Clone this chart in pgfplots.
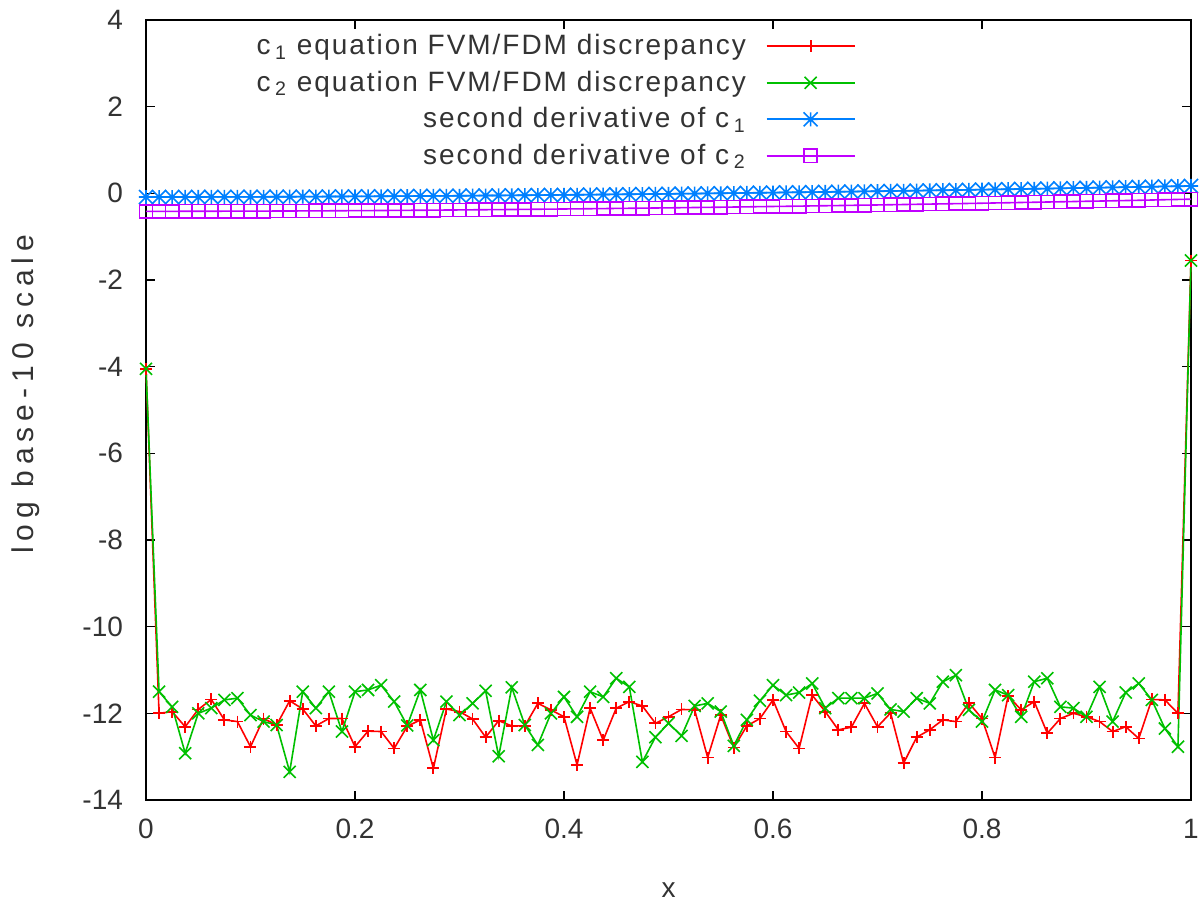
\documentclass[border=0pt]{standalone}
\usepackage{pgfplots}
\pgfplotsset{compat=1.18}
\usepackage{pgfplotstable}
\usepackage{fontspec}
\setmainfont{Liberation Sans}
\newfontfamily\legfont[LetterSpace=7]{Liberation Sans}
\newfontfamily\ylabfont[LetterSpace=20]{Liberation Sans}
\definecolor{gpred}{HTML}{FF0000}
\definecolor{gpgreen}{HTML}{00C000}
\definecolor{gpblue}{HTML}{0080FF}
\definecolor{gpmag}{HTML}{C000FF}
\pgfdeclareplotmark{ast8}{%
  \pgfpathmoveto{\pgfqpoint{-\pgfplotmarksize}{0pt}}%
  \pgfpathlineto{\pgfqpoint{\pgfplotmarksize}{0pt}}%
  \pgfpathmoveto{\pgfqpoint{0pt}{-\pgfplotmarksize}}%
  \pgfpathlineto{\pgfqpoint{0pt}{\pgfplotmarksize}}%
  \pgfpathmoveto{\pgfqpoint{-\pgfplotmarksize}{-\pgfplotmarksize}}%
  \pgfpathlineto{\pgfqpoint{\pgfplotmarksize}{\pgfplotmarksize}}%
  \pgfpathmoveto{\pgfqpoint{-\pgfplotmarksize}{\pgfplotmarksize}}%
  \pgfpathlineto{\pgfqpoint{\pgfplotmarksize}{-\pgfplotmarksize}}%
  \pgfusepathqstroke}
\pgfplotstableread{
x r g b m
0 -4.05 -4.05 -0.085 -0.415
0.0125 -12.00 -11.50 -0.085 -0.415
0.025 -11.96 -11.85 -0.085 -0.415
0.0375 -12.31 -12.92 -0.084 -0.414
0.05 -11.91 -12.00 -0.084 -0.414
0.0625 -11.68 -11.88 -0.083 -0.413
0.075 -12.15 -11.69 -0.083 -0.412
0.0875 -12.19 -11.65 -0.082 -0.412
0.1 -12.77 -12.04 -0.081 -0.411
0.1125 -12.12 -12.19 -0.080 -0.410
0.125 -12.27 -12.27 -0.079 -0.408
0.1375 -11.71 -13.35 -0.078 -0.407
0.15 -11.90 -11.50 -0.077 -0.406
0.1625 -12.29 -11.88 -0.075 -0.404
0.175 -12.12 -11.50 -0.074 -0.403
0.1875 -12.12 -12.42 -0.072 -0.401
0.2 -12.77 -11.50 -0.071 -0.400
0.2125 -12.41 -11.46 -0.069 -0.398
0.225 -12.42 -11.35 -0.068 -0.396
0.2375 -12.81 -11.73 -0.066 -0.394
0.25 -12.30 -12.28 -0.064 -0.392
0.2625 -12.15 -11.46 -0.062 -0.390
0.275 -13.27 -12.62 -0.060 -0.388
0.2875 -11.90 -11.73 -0.058 -0.385
0.3 -11.96 -12.04 -0.056 -0.383
0.3125 -12.13 -11.77 -0.054 -0.380
0.325 -12.55 -11.48 -0.051 -0.378
0.3375 -12.17 -12.99 -0.049 -0.375
0.35 -12.29 -11.40 -0.046 -0.373
0.3625 -12.29 -12.27 -0.044 -0.370
0.375 -11.77 -12.73 -0.041 -0.367
0.3875 -11.92 -12.00 -0.039 -0.364
0.4 -12.08 -11.62 -0.036 -0.361
0.4125 -13.19 -12.08 -0.033 -0.358
0.425 -11.88 -11.50 -0.030 -0.355
0.4375 -12.62 -11.62 -0.027 -0.352
0.45 -11.88 -11.19 -0.024 -0.348
0.4625 -11.73 -11.39 -0.021 -0.345
0.475 -11.83 -13.12 -0.018 -0.342
0.4875 -12.23 -12.55 -0.015 -0.338
0.5 -12.08 -12.23 -0.012 -0.335
0.5125 -11.91 -12.52 -0.008 -0.331
0.525 -11.92 -11.83 -0.005 -0.327
0.5375 -13.02 -11.77 -0.002 -0.323
0.55 -12.04 -11.96 0.002 -0.320
0.5625 -12.79 -12.75 0.005 -0.316
0.575 -12.29 -12.15 0.009 -0.312
0.5875 -12.12 -11.71 0.013 -0.307
0.6 -11.69 -11.35 0.017 -0.303
0.6125 -12.42 -11.58 0.021 -0.299
0.625 -12.81 -11.52 0.024 -0.295
0.6375 -11.58 -11.31 0.028 -0.290
0.65 -11.96 -11.88 0.032 -0.286
0.6625 -12.38 -11.65 0.037 -0.282
0.675 -12.32 -11.65 0.041 -0.277
0.6875 -11.77 -11.65 0.045 -0.272
0.7 -12.31 -11.54 0.049 -0.268
0.7125 -11.99 -11.91 0.054 -0.263
0.725 -13.15 -11.96 0.058 -0.258
0.7375 -12.55 -11.65 0.062 -0.253
0.75 -12.38 -11.77 0.067 -0.248
0.7625 -12.15 -11.27 0.072 -0.243
0.775 -12.19 -11.12 0.076 -0.238
0.7875 -11.76 -11.92 0.081 -0.233
0.8 -12.12 -12.19 0.086 -0.228
0.8125 -13.02 -11.46 0.090 -0.222
0.825 -11.60 -11.58 0.095 -0.217
0.8375 -11.92 -12.08 0.100 -0.211
0.85 -11.73 -11.27 0.105 -0.206
0.8625 -12.46 -11.19 0.110 -0.200
0.875 -12.12 -11.85 0.116 -0.195
0.8875 -12.00 -11.88 0.121 -0.189
0.9 -12.08 -12.08 0.126 -0.183
0.9125 -12.19 -11.39 0.131 -0.178
0.925 -12.42 -12.19 0.137 -0.172
0.9375 -12.31 -11.52 0.142 -0.166
0.95 -12.58 -11.31 0.148 -0.160
0.9625 -11.68 -11.69 0.153 -0.154
0.975 -11.69 -12.35 0.159 -0.147
0.9875 -12.00 -12.77 0.164 -0.141
1 -1.55 -1.55 0.170 -0.135
}\data
\begin{document}
\begin{tikzpicture}
\begin{axis}[name=ax,
  scale only axis, width=522.5pt, height=390pt,
  xmin=0, xmax=1, ymin=-14, ymax=4,
  clip=false,
  axis line style={line width=0.8pt},
  tick align=inside, major tick length=4.5pt,
  tick style={line width=0.8pt, black},
  xtick={0,0.2,0.4,0.6,0.8,1}, xticklabels={0,0.2,0.4,0.6,0.8,1},
  ytick={-14,-12,-10,-8,-6,-4,-2,0,2,4},
  yticklabels={-14,-12,-10,-8,-6,-4,-2,0,2,4},
  minor tick num=0,
  ticklabel style={font=\fontsize{14}{16}\selectfont, color=black!80},
  yticklabel style={xshift=-8pt},
  xticklabel style={yshift=-6pt},
  xlabel={x}, ylabel={\ylabfont log base-10 scale},
  label style={font=\fontsize{14}{16}\selectfont, color=black!80},
  xlabel style={at={(axis description cs:0.5,-0.115)}, anchor=center},
  ylabel style={at={(axis description cs:-0.115,0.52)}, anchor=center, font=\fontsize{15}{17}\selectfont},
  legend plot pos=right,
  legend cell align=right,
  legend style={draw=none, fill=none, at={(axis description cs:0.685,0.992)}, anchor=north east,
    font=\fontsize{14}{16}\selectfont\legfont, text=black!80, row sep=2.6pt,
    /tikz/every odd column/.append style={column sep=8pt}},
  legend image code/.code={\draw[mark repeat=2,mark phase=2,#1] plot coordinates {(0pt,0pt) (22pt,0pt) (44pt,0pt)};},
]
\addplot[gpred, line width=0.8pt, mark=+, mark size=3pt, mark options={line width=0.9pt}] table[x=x,y=r] {\data};
\addlegendentry{c\,\textsubscript{1} equation FVM/FDM discrepancy}
\addplot[gpgreen, line width=0.8pt, mark=x, mark size=4.25pt, mark options={line width=0.8pt}] table[x=x,y=g] {\data};
\addlegendentry{c\,\textsubscript{2} equation FVM/FDM discrepancy}
\addplot[gpblue, line width=0.8pt, mark=ast8, mark size=3.5pt, mark options={line width=0.8pt}] table[x=x,y=b] {\data};
\addlegendentry{second derivative of c\,\textsubscript{1}}
\addplot[gpmag, line width=0.8pt, mark=square, mark size=3.3pt, mark options={line width=0.8pt}] table[x=x,y=m] {\data};
\addlegendentry{second derivative of c\,\textsubscript{2}}
\end{axis}
\pgfresetboundingbox
\path[use as bounding box] ([xshift=-73pt,yshift=-51pt]ax.south west) rectangle ++(599.5pt,451pt);
\end{tikzpicture}
\end{document}
